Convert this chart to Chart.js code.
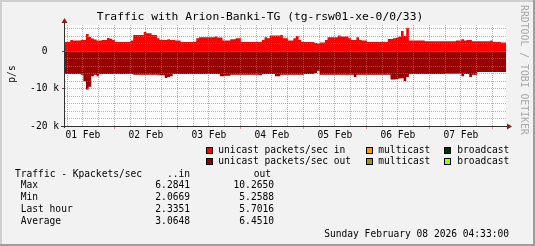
<!DOCTYPE html>
<html>
<head>
<meta charset="utf-8">
<script src="https://cdn.jsdelivr.net/npm/chart.js@4.4.1/dist/chart.umd.min.js"></script>
<style>
  html, body { margin: 0; padding: 0; background: #f2f2f2; }
</style>
</head>
<body>
<canvas id="chart" width="535" height="246"></canvas>
<script>
// Traffic graph, one week, values in Kpackets/sec (hourly samples)
const startHour = 5.2;   // first sample, hours after 01 Feb 00:00
const binHours = 1;
const dayLabels = ['01 Feb', '02 Feb', '03 Feb', '04 Feb', '05 Feb', '06 Feb', '07 Feb'];

const inVals = [
  2.48, 2.48, 2.48, 3.0, 2.83, 2.83, 2.83, 3.0, 3.0, 4.6, 3.8, 3.36,
  3.1, 2.83, 2.83, 3.0, 3.0, 3.54, 3.3, 3.0, 2.48, 2.48, 2.48, 2.48,
  2.48, 2.48, 2.83, 4.34, 4.34, 4.34, 4.34, 5.13, 4.78, 4.78, 4.34, 4.34,
  3.45, 3.0, 3.0, 3.0, 3.19, 3.0, 3.0, 2.83, 2.83, 2.48, 2.48, 2.48,
  2.48, 2.48, 2.48, 3.45, 3.72, 3.72, 3.72, 3.72, 3.72, 3.72, 3.9, 3.63,
  3.63, 2.83, 2.83, 2.83, 3.19, 3.19, 3.45, 3.45, 2.48, 2.48, 2.48, 2.48,
  2.48, 2.48, 2.48, 2.48, 3.0, 3.72, 3.45, 4.16, 4.16, 4.16, 4.16, 4.34,
  3.45, 3.45, 2.83, 2.83, 3.45, 4.07, 3.0, 2.48, 2.48, 2.48, 2.48, 2.48,
  2.2, 2.07, 2.3, 2.3, 3.0, 3.72, 3.72, 3.72, 3.72, 4.16, 3.9, 3.9,
  3.9, 3.45, 3.0, 3.0, 3.72, 3.0, 2.83, 2.83, 2.48, 2.48, 2.48, 2.48,
  2.48, 2.48, 2.48, 2.48, 3.27, 3.27, 3.45, 3.6, 3.9, 5.4, 4.07, 6.28,
  2.83, 2.83, 2.83, 2.83, 2.83, 2.83, 2.65, 2.65, 2.65, 2.65, 2.65, 2.65,
  2.65, 2.65, 2.65, 2.65, 2.65, 2.65, 2.83, 2.83, 3.19, 2.83, 3.0, 3.0,
  2.65, 2.65, 2.65, 2.65, 2.65, 2.65, 2.65, 2.83, 2.48, 2.48, 2.48, 2.3
];

const outVals = [
  6.1, 6.1, 6.1, 6.1, 6.1, 6.1, 6.1, 6.28, 8.05, 10.265, 9.5, 6.73,
  6.28, 6.73, 6.1, 6.1, 6.1, 6.1, 6.1, 6.1, 6.1, 6.1, 6.1, 6.1,
  6.1, 6.1, 6.1, 6.28, 6.28, 6.28, 6.28, 6.28, 6.28, 6.28, 6.28, 6.28,
  6.28, 6.46, 6.46, 7.17, 6.9, 6.73, 6.1, 6.1, 6.1, 6.1, 6.1, 6.1,
  6.1, 6.1, 6.1, 6.1, 6.1, 6.1, 6.1, 6.1, 6.1, 6.1, 6.1, 6.1,
  6.73, 6.73, 6.55, 6.55, 6.28, 6.28, 6.28, 6.28, 6.28, 6.28, 6.28, 6.28,
  6.28, 6.28, 6.28, 6.46, 6.1, 6.1, 6.1, 6.1, 6.1, 6.73, 6.73, 6.28,
  6.28, 6.28, 6.28, 6.28, 6.28, 6.28, 6.28, 6.28, 6.1, 6.1, 6.1, 6.1,
  5.8, 5.26, 6.28, 6.28, 6.28, 6.28, 6.28, 6.28, 6.28, 6.28, 6.28, 6.28,
  6.28, 6.28, 6.28, 6.9, 6.28, 6.28, 6.28, 6.28, 6.28, 6.28, 6.28, 6.28,
  6.28, 6.28, 6.28, 6.28, 6.28, 7.6, 7.6, 7.43, 7.3, 7.26, 8.05, 6.9,
  6.1, 6.1, 6.1, 6.1, 6.1, 6.1, 6.1, 6.1, 6.1, 6.1, 6.1, 6.1,
  6.1, 6.1, 6.02, 6.02, 6.02, 6.02, 6.02, 6.02, 6.73, 6.1, 6.1, 6.9,
  6.28, 6.28, 5.58, 5.58, 5.58, 5.58, 5.58, 5.58, 5.58, 5.58, 5.58, 5.58
];

// broadcast out: only a couple of tiny blips
const bcastOutIdx = [36, 108];
const bcastOutVals = [0.3, 0.3];

const legendRows = [
  ['unicast packets/sec in', 'multicast', 'broadcast'],
  ['unicast packets/sec out', 'multicast', 'broadcast']
];
const statHeader = ['Traffic - Kpackets/sec', '..in', 'out'];
const statNames = ['Max', 'Min', 'Last hour', 'Average'];
const statIn = ['6.2841', '2.0669', '2.3351', '3.0648'];
const statOut = ['10.2650', '5.2588', '5.7016', '6.4510'];
const titleText = 'Traffic with Arion-Banki-TG (tg-rsw01-xe-0/0/33)';
const unitText = 'p/s';
const stampText = 'Sunday February 08 2026 04:33:00';
const watermark = 'RRDTOOL / TOBI OETIKER';

// colours
const COL_IN = '#ff0000';
const COL_OUT = '#990000';
const legendColors = [
  [COL_IN, '#ff9900', '#003300'],
  [COL_OUT, '#999900', '#99ff00']
];
const GRID = 'rgba(130,130,130,0.6)';
const MGRID = 'rgba(222,79,79,0.6)';
const MONO = '"DejaVu Sans Mono", monospace';
const font = { family: 'DejaVu Sans Mono', size: 9.6 };

function steps(vals) {
  const pts = vals.map((v, i) => ({ x: startHour + i * binHours, y: v }));
  pts.push({ x: startHour + vals.length * binHours, y: vals[vals.length - 1] });
  return pts;
}

const bcastOut = outVals.map((v, i) => {
  const k = bcastOutIdx.indexOf(i);
  return v + (k >= 0 ? bcastOutVals[k] : 0);
});

const rrdFrame = {
  id: 'rrdFrame',
  beforeDraw(chart) {
    const { ctx, width, height, chartArea: a } = chart;
    ctx.save();
    ctx.fillStyle = '#f2f2f2';
    ctx.fillRect(0, 0, width, height);
    ctx.fillStyle = '#cfcfcf';
    ctx.fillRect(0, 0, width, 2);
    ctx.fillRect(0, 0, 2, height);
    ctx.fillStyle = '#9e9e9e';
    ctx.fillRect(0, height - 2, width, 2);
    ctx.fillRect(width - 2, 0, 2, height);
    ctx.fillStyle = '#ffffff';
    ctx.fillRect(a.left, a.top, a.right - a.left, a.bottom - a.top);
    ctx.restore();
  },
  afterDraw(chart) {
    const { ctx, chartArea: a } = chart;
    ctx.save();
    // axes
    ctx.strokeStyle = '#303030';
    ctx.lineWidth = 1;
    ctx.beginPath();
    ctx.moveTo(a.left - 0.5, a.bottom + 2);
    ctx.lineTo(a.left - 0.5, a.top - 4);
    ctx.moveTo(a.left - 4, a.bottom + 0.5);
    ctx.lineTo(a.right + 3, a.bottom + 0.5);
    ctx.stroke();
    ctx.fillStyle = '#7f1f1f';
    ctx.beginPath();
    ctx.moveTo(a.left - 0.5, a.top - 7);
    ctx.lineTo(a.left - 3.5, a.top - 2);
    ctx.lineTo(a.left + 2.5, a.top - 2);
    ctx.closePath();
    ctx.fill();
    ctx.beginPath();
    ctx.moveTo(a.right + 6, a.bottom + 0.5);
    ctx.lineTo(a.right + 1, a.bottom - 2.5);
    ctx.lineTo(a.right + 1, a.bottom + 3.5);
    ctx.closePath();
    ctx.fill();

    ctx.textBaseline = 'middle';
    // title
    ctx.fillStyle = '#000';
    ctx.font = '11.3px ' + MONO;
    ctx.textAlign = 'center';
    ctx.fillText(titleText, 260, 17);

    // unit label
    ctx.font = '9.6px ' + MONO;
    ctx.save();
    ctx.translate(12, 74);
    ctx.rotate(-Math.PI / 2);
    ctx.fillText(unitText, 0, 0);
    ctx.restore();

    // watermark
    ctx.save();
    ctx.fillStyle = '#a8a8a8';
    ctx.font = '9.8px ' + MONO;
    ctx.translate(524, 5);
    ctx.rotate(Math.PI / 2);
    ctx.textAlign = 'left';
    ctx.fillText(watermark, 0, 0);
    ctx.restore();

    // legend
    const boxX = [206, 366, 444];
    const textX = [218.3, 378.3, 457.3];
    const rowY = [150.5, 161.7];
    ctx.textAlign = 'left';
    legendRows.forEach((row, r) => {
      row.forEach((label, c) => {
        const by = Math.round(rowY[r] - 3.5);
        ctx.fillStyle = legendColors[r][c];
        ctx.fillRect(boxX[c], by, 7, 7);
        ctx.strokeStyle = '#000';
        ctx.strokeRect(boxX[c] + 0.5, by + 0.5, 6, 6);
        ctx.fillStyle = '#000';
        ctx.fillText(label, textX[c], rowY[r]);
      });
    });

    // stats table
    ctx.fillText(statHeader[0], 15, 174);
    ctx.textAlign = 'right';
    ctx.fillText(statHeader[1], 190, 174);
    ctx.fillText(statHeader[2], 271, 174);
    statNames.forEach((name, i) => {
      const y = 185.8 + i * 11.9;
      ctx.textAlign = 'left';
      ctx.fillText(name, 20.7, y);
      ctx.textAlign = 'right';
      ctx.fillText(statIn[i], 190, y);
      ctx.fillText(statOut[i], 274, y);
    });
    ctx.fillText(stampText, 509, 234);
    ctx.restore();
  }
};

const ctx = document.getElementById('chart');
new Chart(ctx, {
  type: 'line',
  data: {
    datasets: [
      {
        label: 'unicast packets/sec in',
        data: steps(inVals),
        backgroundColor: COL_IN,
        fill: 'origin'
      },
      {
        label: 'unicast packets/sec out',
        data: steps(outVals.map(v => -v)),
        backgroundColor: COL_OUT,
        fill: 'origin'
      },
      {
        label: 'broadcast out',
        data: steps(bcastOut.map(v => -v)),
        backgroundColor: '#99ff00',
        fill: '-1'
      }
    ]
  },
  options: {
    responsive: false,
    animation: false,
    devicePixelRatio: 1,
    layout: { padding: { left: 0, right: 29, top: 25, bottom: 0 } },
    elements: {
      line: { borderWidth: 0, stepped: 'after', tension: 0 },
      point: { radius: 0 }
    },
    plugins: {
      legend: { display: false },
      title: { display: false },
      tooltip: { enabled: false }
    },
    scales: {
      x: {
        type: 'linear',
        min: startHour,
        max: startHour + inVals.length * binHours,
        afterFit: s => { s.height = 120; },
        afterBuildTicks: s => {
          s.ticks = [];
          for (let h = 6; h < s.max; h += 6) s.ticks.push({ value: h });
        },
        ticks: {
          autoSkip: false,
          maxRotation: 0,
          padding: 1,
          color: '#000',
          font: font,
          callback: v => (v % 24 === 12 ? dayLabels[(v - 12) / 24] : '')
        },
        grid: {
          z: 1,
          color: c => (c.tick && c.tick.value % 24 === 0 ? MGRID : GRID),
          lineWidth: 1,
          borderDash: [1, 1],
          drawTicks: true,
          tickLength: 3,
          tickBorderDash: [],
          tickColor: c => (c.tick && c.tick.value % 24 === 0 ? MGRID : 'rgba(0,0,0,0)')
        },
        border: { display: false, dash: [1, 1] }
      },
      y: {
        min: -20,
        max: 7,
        afterFit: s => { s.width = 65; },
        afterBuildTicks: s => {
          s.ticks = [];
          for (let v = -20; v <= 6; v += 2) s.ticks.push({ value: v });
        },
        ticks: {
          autoSkip: false,
          padding: 3,
          color: '#000',
          font: font,
          callback: v => (v % 10 === 0 ? (v === 0 ? '0  ' : v + ' k') : '')
        },
        grid: {
          z: 1,
          color: c => (c.tick && c.tick.value % 10 === 0 ? MGRID : GRID),
          lineWidth: 1,
          borderDash: [1, 1],
          drawTicks: true,
          tickLength: 3,
          tickBorderDash: [],
          tickColor: c => (c.tick && c.tick.value % 10 === 0 ? '#7f3f3f' : 'rgba(0,0,0,0)')
        },
        border: { display: false, dash: [1, 1] }
      }
    }
  },
  plugins: [rrdFrame]
});
</script>
</body>
</html>
